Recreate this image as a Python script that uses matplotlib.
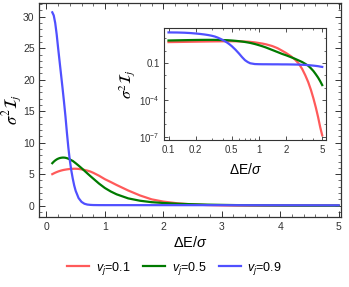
import matplotlib
matplotlib.use("Agg")
import matplotlib.pyplot as plt
from matplotlib.ticker import FixedLocator, MultipleLocator, NullFormatter

plt.rcParams["font.family"] = ["Liberation Sans", "DejaVu Sans"]
plt.rcParams["mathtext.fontset"] = "custom"
plt.rcParams["mathtext.rm"] = "Liberation Sans"
plt.rcParams["mathtext.it"] = "Liberation Sans:italic"

# energy gap in units of sigma
dE = [0.1, 0.125, 0.15, 0.175, 0.2, 0.225, 0.25, 0.275, 0.3, 0.325, 0.35, 0.375,
      0.4, 0.425, 0.45, 0.475, 0.5, 0.55, 0.6, 0.65, 0.7, 0.75, 0.8, 0.9, 1.0,
      1.1, 1.2, 1.4, 1.6, 1.8, 2.0, 2.25, 2.5, 2.75, 3.0, 3.25, 3.5, 3.75, 4.0,
      4.25, 4.5, 4.75, 5.0]

# sigma^2 I_j for each detector speed
v01 = [5.0, 5.12, 5.23, 5.33, 5.42, 5.5, 5.57, 5.63, 5.68, 5.72, 5.76, 5.79,
       5.82, 5.84, 5.85, 5.86, 5.86, 5.83, 5.76, 5.67, 5.56, 5.42, 5.22, 4.75, 4.2,
       3.75, 3.28, 2.4, 1.62, 1.0, 0.64, 0.36, 0.19, 0.09, 0.033, 0.01, 0.0028,
       6.5e-4, 1.3e-4, 2.4e-5, 4e-6, 6e-7, 1.3e-7]
v05 = [6.74, 6.98, 7.18, 7.34, 7.46, 7.55, 7.6, 7.63, 7.63, 7.6, 7.54, 7.45,
       7.34, 7.21, 7.1, 6.92, 6.74, 6.36, 5.96, 5.54, 5.12, 4.7, 4.3, 3.5, 2.8,
       2.25, 1.8, 1.15, 0.78, 0.55, 0.42, 0.3, 0.22, 0.16, 0.12, 0.085, 0.06,
       0.037, 0.022, 0.012, 0.0065, 0.0033, 0.0016]
v09 = [30.7, 30.2, 29.0, 27.2, 25.0, 22.9, 20.8, 18.7, 16.5, 14.2, 11.6, 9.2,
       7.2, 5.6, 4.3, 3.2, 2.35, 1.2, 0.6, 0.3, 0.17, 0.12, 0.095, 0.082, 0.08,
       0.079, 0.079, 0.078, 0.078, 0.077, 0.077, 0.076, 0.075, 0.074, 0.072,
       0.07, 0.067, 0.064, 0.061, 0.058, 0.055, 0.051, 0.048]

labels = [r"$v_j$=0.1", r"$v_j$=0.5", r"$v_j$=0.9"]
colors = ["#ff5a5a", "#007a00", "#5050ff"]
series = [v01, v05, v09]

frame_col = "#333333"
tick_txt = "#333333"
fig = plt.figure(figsize=(3.49, 2.87), dpi=100)
ax = fig.add_axes([0.113, 0.244, 0.864, 0.746])

handles = []
for y, c, lab in zip(series, colors, labels):
    (h,) = ax.plot(dE, y, color=c, lw=1.6, label=lab)
    handles.append(h)

ax.set_xlim(-0.12, 5.04)
ax.set_ylim(-1.8, 32.2)
ax.xaxis.set_major_locator(MultipleLocator(1))
ax.xaxis.set_minor_locator(MultipleLocator(0.2))
ax.yaxis.set_major_locator(MultipleLocator(5))
ax.yaxis.set_minor_locator(MultipleLocator(1))
ax.tick_params(which="both", direction="in", top=True, right=True,
               colors=frame_col, labelsize=7.5, labelcolor=tick_txt)
ax.tick_params(which="major", length=4, width=0.7)
ax.tick_params(which="minor", length=2, width=0.5)
for s in ax.spines.values():
    s.set_color(frame_col)
    s.set_linewidth(0.9)
ax.set_xlabel(r"$\Delta$E/$\sigma$", fontsize=10.5, labelpad=2)
ax.set_ylabel(r"$\sigma^2\mathcal{I}_j$", fontsize=12, math_fontfamily="stix")
ax.yaxis.set_label_coords(-0.05, 0.5)

# inset on log-log axes
ins = fig.add_axes([0.471, 0.512, 0.463, 0.389])
for y, c in zip(series, colors):
    ins.plot(dE, y, color=c, lw=1.6)
ins.set_xscale("log")
ins.set_yscale("log")
ins.set_xlim(0.09, 5.5)
ins.set_ylim(5.4e-8, 65)
ins.xaxis.set_major_locator(FixedLocator([0.1, 0.2, 0.5, 1, 2, 5]))
ins.xaxis.set_minor_locator(FixedLocator([0.3, 0.4, 0.6, 0.7, 0.8, 0.9, 3, 4]))
ins.xaxis.set_minor_formatter(NullFormatter())
ins.set_xticklabels(["0.1", "0.2", "0.5", "1", "2", "5"])
ins.yaxis.set_major_locator(FixedLocator([0.1, 1e-4, 1e-7]))
ins.yaxis.set_minor_locator(FixedLocator([1e-8, 1e-6, 1e-5, 1e-3, 1e-2, 1, 10]))
ins.yaxis.set_minor_formatter(NullFormatter())
ins.set_yticklabels(["0.1", r"$10^{-4}$", r"$10^{-7}$"])
ins.tick_params(which="both", direction="in", top=True, right=True,
                colors=frame_col, labelsize=7, labelcolor=tick_txt)
ins.tick_params(which="major", length=3, width=0.6)
ins.tick_params(which="minor", length=1.5, width=0.5)
for s in ins.spines.values():
    s.set_color(frame_col)
    s.set_linewidth(0.8)
ins.set_xlabel(r"$\Delta$E/$\sigma$", fontsize=10, labelpad=5)
ins.set_ylabel(r"$\sigma^2\mathcal{I}_j$", fontsize=11.5, math_fontfamily="stix",
               labelpad=1)

fig.legend(handles=handles, loc="center", bbox_to_anchor=(0.5, 0.065), ncol=3,
           frameon=False, fontsize=9, handlelength=1.8, columnspacing=1.0,
           handletextpad=0.5)

fig.savefig("out.png", dpi=100)
